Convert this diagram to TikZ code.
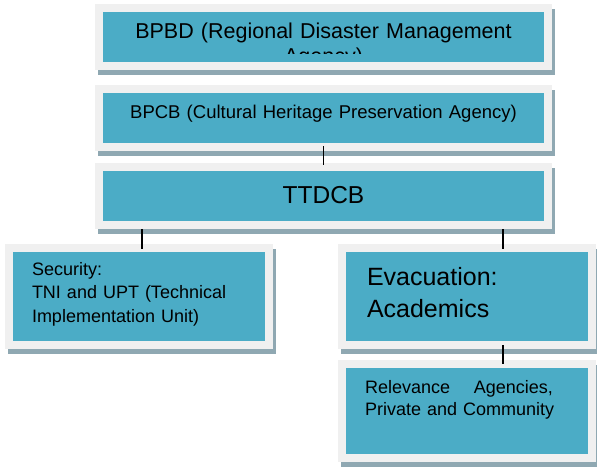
\documentclass[tikz,border=0pt]{standalone}
\usepackage{fontspec}
\setmainfont{Liberation Sans}
\usepackage{tikz}
\usetikzlibrary{calc,backgrounds}
\definecolor{boxteal}{HTML}{4BACC6}
\definecolor{boxframe}{HTML}{F0F0F0}
\definecolor{boxshadow}{HTML}{8FA8B2}

\begin{document}
\begin{tikzpicture}[x=1pt,y=-1pt,
  box/.style={rectangle,fill=boxteal,inner sep=0pt,text=black},
  link/.style={line width=1.5pt}]
\useasboundingbox (0,0) rectangle (597,468);
% top row of boxes
\node[box,minimum width=441pt,minimum height=50pt] (bpbd) at (323.5,37) {};
\node[box,text width=441pt,align=center,text height=13pt,text depth=11pt,
  minimum height=50pt,font=\fontsize{18.5}{22}\selectfont] (bpcb) at (323.5,118)
  {BPCB (Cultural Heritage Preservation Agency)};
\node[box,text width=441pt,align=center,text height=18pt,text depth=4pt,
  minimum height=50pt,font=\fontsize{24.5}{28}\selectfont] (ttdcb) at (323.5,196) {TTDCB};
% lower boxes
\node[box,inner xsep=19pt,text width=214pt,align=left,text height=23pt,text depth=66pt,
  font=\fontsize{18}{23.5}\selectfont] (sec) at (139,296.5)
  {Security:\\TNI and UPT (Technical\\Implementation Unit)};
\node[box,inner xsep=21pt,text width=200pt,align=left,text height=33pt,text depth=56pt,
  font=\fontsize{25}{32}\selectfont] (evac) at (467,296.5)
  {Evacuation:\\Academics};
\node[box,inner xsep=19pt,text width=204pt,align=left,text height=25pt,text depth=61pt,
  font=\fontsize{18}{22}\selectfont] (rel) at (467,411)
  {\hbox to 188pt{Relevance\hfill Agencies,}\\Private and Community};
% cut off text of the first box
\begin{scope}
\clip (bpbd.north west) rectangle ([yshift=8.5pt]bpbd.south east);
\node[text width=441pt,align=center,inner sep=0pt,anchor=base,
  font=\fontsize{21.5}{24.5}\selectfont] (bpbdtext) at (323.5,39)
  {BPBD (Regional Disaster Management\\Agency)};
\end{scope}
% frames and shadows
\begin{scope}[on background layer]
\foreach \n in {bpbd,bpcb,ttdcb,sec,evac,rel} {
\fill[boxshadow] ([shift={(-5pt,-13pt)}]\n.south west) rectangle ([shift={(11pt,3pt)}]\n.north east);
\fill[boxframe] ([shift={(-8pt,-8pt)}]\n.south west) rectangle ([shift={(8pt,8pt)}]\n.north east);
}
\end{scope}
% connectors
\coordinate (tl) at ([shift={(39pt,-8pt)}]ttdcb.south west);
\coordinate (tr) at ([shift={(-41pt,-8pt)}]ttdcb.south east);
\draw[link] ([yshift=-3pt]bpcb.south) -- ([yshift=6pt]ttdcb.north);
\draw[link] (tl) -- ($(tl |- sec.north)+(0pt,3pt)$);
\draw[link] (tr) -- ($(tr |- evac.north)+(0pt,3pt)$);
\draw[link] ($(tr |- evac.south)+(0pt,-4pt)$) -- ($(tr |- rel.north)+(0pt,4pt)$);
\end{tikzpicture}
\end{document}
